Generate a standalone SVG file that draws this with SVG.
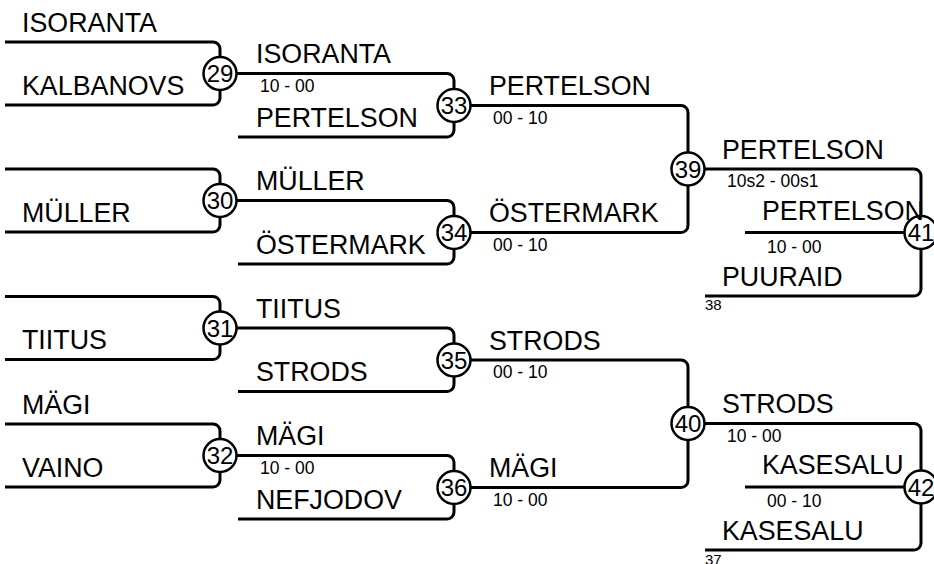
<svg xmlns="http://www.w3.org/2000/svg" width="934" height="564" viewBox="0 0 934 564">
<style>
.c{fill:none;stroke:#000;stroke-width:3}
.n circle{fill:#fff;stroke:#000;stroke-width:2.5}
.n text{font-family:"Liberation Sans",Arial,sans-serif;font-size:24px;text-anchor:middle;fill:#000}
.nm{font-family:"Liberation Sans",Arial,sans-serif;font-size:26.8px;fill:#000}
.sc{font-family:"Liberation Sans",Arial,sans-serif;font-size:17.5px;fill:#000}
.sm{font-family:"Liberation Sans",Arial,sans-serif;font-size:15px;fill:#000}
</style>
<rect width="934" height="564" fill="#fff"/>
<g id="connectors" class="c">
<path d="M5,42 H213 A7,7 0 0 1 220,49 V57"/>
<path d="M5,105 H213 A7,7 0 0 0 220,98 V90"/>
<path d="M5,169 H213 A7,7 0 0 1 220,176 V184"/>
<path d="M5,232 H213 A7,7 0 0 0 220,225 V217"/>
<path d="M5,296.5 H213 A7,7 0 0 1 220,303.5 V311.5"/>
<path d="M5,359.5 H213 A7,7 0 0 0 220,352.5 V344.5"/>
<path d="M5,424 H213 A7,7 0 0 1 220,431 V439"/>
<path d="M5,487 H213 A7,7 0 0 0 220,480 V472"/>
<path d="M236.5,73.5 H447 A7,7 0 0 1 454,80.5 V89"/>
<path d="M238,137 H447 A7,7 0 0 0 454,130 V122"/>
<path d="M236.5,200.5 H447 A7,7 0 0 1 454,207.5 V216"/>
<path d="M238,264 H447 A7,7 0 0 0 454,257 V249"/>
<path d="M236.5,328 H447 A7,7 0 0 1 454,335 V343.5"/>
<path d="M238,391.5 H447 A7,7 0 0 0 454,384.5 V376.5"/>
<path d="M236.5,455.5 H447 A7,7 0 0 1 454,462.5 V471"/>
<path d="M238,519 H447 A7,7 0 0 0 454,512 V504"/>
<path d="M470.5,105.5 H681 A7,7 0 0 1 688,112.5 V152.5"/>
<path d="M470.5,232.5 H681 A7,7 0 0 0 688,225.5 V185.5"/>
<path d="M470.5,360 H681 A7,7 0 0 1 688,367 V407"/>
<path d="M470.5,487.5 H681 A7,7 0 0 0 688,480.5 V440"/>
<path d="M704.5,169 H914 A7,7 0 0 1 921,176 V216"/>
<path d="M745,232.5 H904.5"/>
<path d="M705,296 H914 A7,7 0 0 0 921,289 V249"/>
<path d="M704.5,423.5 H914 A7,7 0 0 1 921,430.5 V470.5"/>
<path d="M745,487 H904.5"/>
<path d="M705,550 H914 A7,7 0 0 0 921,543 V503.5"/>
</g>
<g id="m29" class="n"><circle cx="220" cy="73.5" r="16.5"/><text x="220" y="82">29</text></g>
<g id="m30" class="n"><circle cx="220" cy="200.5" r="16.5"/><text x="220" y="209">30</text></g>
<g id="m31" class="n"><circle cx="220" cy="328" r="16.5"/><text x="220" y="336.5">31</text></g>
<g id="m32" class="n"><circle cx="220" cy="455.5" r="16.5"/><text x="220" y="464">32</text></g>
<g id="m33" class="n"><circle cx="454" cy="105.5" r="16.5"/><text x="454" y="114">33</text></g>
<g id="m34" class="n"><circle cx="454" cy="232.5" r="16.5"/><text x="454" y="241">34</text></g>
<g id="m35" class="n"><circle cx="454" cy="360" r="16.5"/><text x="454" y="368.5">35</text></g>
<g id="m36" class="n"><circle cx="454" cy="487.5" r="16.5"/><text x="454" y="496">36</text></g>
<g id="m39" class="n"><circle cx="688" cy="169" r="16.5"/><text x="688" y="177.5">39</text></g>
<g id="m40" class="n"><circle cx="688" cy="423.5" r="16.5"/><text x="688" y="432">40</text></g>
<g id="m41" class="n"><circle cx="921" cy="232.5" r="16.5"/><text x="921" y="241">41</text></g>
<g id="m42" class="n"><circle cx="921" cy="487" r="16.5"/><text x="921" y="495.5">42</text></g>
<g id="labels">
<text class="nm" x="22" y="31.5">ISORANTA</text>
<text class="nm" x="22" y="94.5">KALBANOVS</text>
<text class="nm" x="22" y="221.5">MÜLLER</text>
<text class="nm" x="22" y="349">TIITUS</text>
<text class="nm" x="22" y="413.5">MÄGI</text>
<text class="nm" x="22" y="476.5">VAINO</text>
<text class="nm" x="256" y="63">ISORANTA</text>
<text class="sc" x="260" y="92">10 - 00</text>
<text class="nm" x="256" y="126.5">PERTELSON</text>
<text class="nm" x="256" y="190">MÜLLER</text>
<text class="nm" x="256" y="253.5">ÖSTERMARK</text>
<text class="nm" x="256" y="317.5">TIITUS</text>
<text class="nm" x="256" y="381">STRODS</text>
<text class="nm" x="256" y="445">MÄGI</text>
<text class="sc" x="260" y="474">10 - 00</text>
<text class="nm" x="256" y="508.5">NEFJODOV</text>
<text class="nm" x="489" y="95">PERTELSON</text>
<text class="sc" x="493" y="123.5">00 - 10</text>
<text class="nm" x="489" y="222">ÖSTERMARK</text>
<text class="sc" x="493" y="250.5">00 - 10</text>
<text class="nm" x="489" y="349.5">STRODS</text>
<text class="sc" x="493" y="378">00 - 10</text>
<text class="nm" x="489" y="477">MÄGI</text>
<text class="sc" x="493" y="505.5">10 - 00</text>
<text class="nm" x="722" y="158.5">PERTELSON</text>
<text class="sc" x="727" y="187">10s2 - 00s1</text>
<text class="nm" x="762" y="219.5">PERTELSON</text>
<text class="sc" x="767" y="252.5">10 - 00</text>
<text class="nm" x="722" y="285.5">PUURAID</text>
<text class="sm" x="705" y="310">38</text>
<text class="nm" x="722" y="413">STRODS</text>
<text class="sc" x="727" y="442">10 - 00</text>
<text class="nm" x="762" y="473.5">KASESALU</text>
<text class="sc" x="767" y="506.5">00 - 10</text>
<text class="nm" x="722" y="539.5">KASESALU</text>
<text class="sm" x="705" y="565">37</text>
</g>
</svg>
